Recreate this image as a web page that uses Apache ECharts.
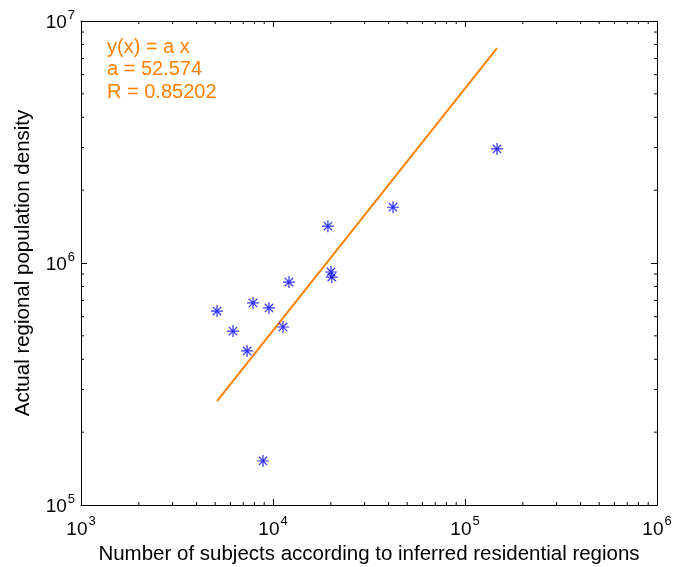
<!DOCTYPE html>
<html><head><meta charset="utf-8">
<script src="https://cdn.jsdelivr.net/npm/echarts@6/dist/echarts.min.js"></script>
<style>html,body{margin:0;padding:0;background:#fff}#c{width:687px;height:567px}</style>
</head><body><div id="c"></div>
<script>
// Data
const subjects = [5110, 6190, 7330, 7870, 8870, 9530, 11270, 12110, 19320, 20040, 20250, 42170, 146800];
const density  = [633000, 523000, 433000, 684000, 152000, 652000, 544000, 834000, 1420000, 918000, 875000, 1700000, 2960000];
const fitX = [5110, 146800];
const fitY = [268700, 7718000];
const fitText = ['y(x) = a x', 'a = 52.574', 'R = 0.85202'];
const xTicksMinor = [2e3,3e3,4e3,5e3,6e3,7e3,8e3,9e3,2e4,3e4,4e4,5e4,6e4,7e4,8e4,9e4,2e5,3e5,4e5,5e5,6e5,7e5,8e5,9e5];
const yTicksMinor = [2e5,3e5,4e5,5e5,6e5,7e5,8e5,9e5,2e6,3e6,4e6,5e6,6e6,7e6,8e6,9e6];
const xRange = [1e3, 1e6];
const yRange = [1e5, 1e7];
const xTitle = 'Number of subjects according to inferred residential regions';
const yTitle = 'Actual regional population density';

const FONT = 'Liberation Sans';
const supFmt = v => '{b|10}{sup|' + Math.round(Math.log10(v)) + '}';
const labRich = {
  b: {fontSize: 19, fontFamily: FONT, color: '#000', padding: [4,0,0,0]},
  sup: {fontSize: 13, verticalAlign: 'top', padding: [0,0,12,1], fontFamily: FONT, color: '#000'}
};

const chart = echarts.init(document.getElementById('c'), null, {renderer: 'canvas'});
const axisCommon = {
  type: 'log', logBase: 10,
  axisLine: {show: true, lineStyle: {color: '#000', width: 1}},
  axisTick: {show: true, inside: true, length: 6, lineStyle: {color: '#000'}},
  splitLine: {show: false},
};
const scatterData = subjects.map((x, i) => [x, density[i]]);
const fitData = fitX.map((x, i) => [x, fitY[i]]);

chart.setOption({
  animation: false,
  grid: {left: 81, right: 30, top: 21, bottom: 62, containLabel: false, outerBoundsMode: 'none'},
  xAxis: [
    Object.assign({}, axisCommon, {
      min: xRange[0], max: xRange[1], position: 'bottom',
      name: xTitle, nameLocation: 'middle', nameGap: 38,
      nameTextStyle: {fontFamily: FONT, fontSize: 20.5, color: '#000'},
      axisLabel: {formatter: supFmt, rich: labRich, fontFamily: FONT, fontSize: 19, color: '#000', margin: 10}
    }),
    Object.assign({}, axisCommon, {
      min: xRange[0], max: xRange[1], position: 'top', axisLabel: {show: false}
    })
  ],
  yAxis: [
    Object.assign({}, axisCommon, {
      min: yRange[0], max: yRange[1], position: 'left',
      name: yTitle, nameLocation: 'middle', nameGap: 47,
      nameTextStyle: {fontFamily: FONT, fontSize: 20.5, color: '#000'},
      axisLabel: {formatter: supFmt, rich: labRich, fontFamily: FONT, fontSize: 19, color: '#000', margin: 6}
    }),
    Object.assign({}, axisCommon, {
      min: yRange[0], max: yRange[1], position: 'right', axisLabel: {show: false}
    })
  ],
  graphic: [{
    type: 'text', left: 107, top: 36,
    style: {text: fitText.join('\n'), fill: '#ff8000', font: '20px "' + FONT + '"', lineHeight: 22.5}
  }],
  series: [
    {
      type: 'line', data: fitData, showSymbol: false, symbol: 'none',
      lineStyle: {color: '#ff8000', width: 2}, z: 3
    },
    {
      type: 'scatter', data: scatterData,
      symbol: 'path://M0,-6L0,6M-6,0L6,0M-4.2,-4.2L4.2,4.2M-4.2,4.2L4.2,-4.2',
      symbolSize: 12,
      itemStyle: {color: 'rgba(0,0,0,0)', borderColor: '#0000ff', borderWidth: 1.2},
      z: 4
    },
    {
      type: 'custom', silent: true, clip: false,
      data: xTicksMinor.map(v => [v, yRange[0]]),
      renderItem: (params, api) => {
        const v = api.value(0);
        const b = api.coord([v, yRange[0]]);
        const t = api.coord([v, yRange[1]]);
        return {type: 'group', children: [
          {type: 'line', shape: {x1: b[0], y1: b[1], x2: b[0], y2: b[1] - 3}, style: {stroke: '#000', lineWidth: 1}},
          {type: 'line', shape: {x1: t[0], y1: t[1], x2: t[0], y2: t[1] + 3}, style: {stroke: '#000', lineWidth: 1}}
        ]};
      }
    },
    {
      type: 'custom', silent: true, clip: false,
      data: yTicksMinor.map(v => [xRange[0], v]),
      renderItem: (params, api) => {
        const v = api.value(1);
        const l = api.coord([xRange[0], v]);
        const r = api.coord([xRange[1], v]);
        return {type: 'group', children: [
          {type: 'line', shape: {x1: l[0], y1: l[1], x2: l[0] + 3, y2: l[1]}, style: {stroke: '#000', lineWidth: 1}},
          {type: 'line', shape: {x1: r[0], y1: r[1], x2: r[0] - 3, y2: r[1]}, style: {stroke: '#000', lineWidth: 1}}
        ]};
      }
    }
  ]
});
</script></body></html>
